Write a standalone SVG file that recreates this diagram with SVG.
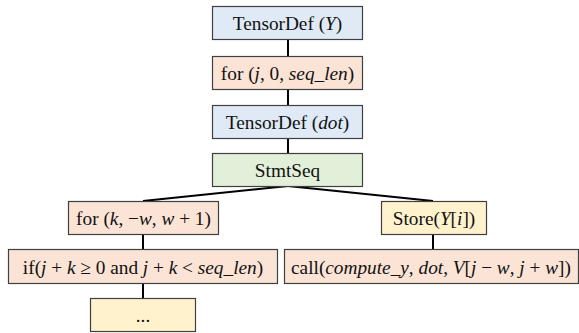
<svg xmlns="http://www.w3.org/2000/svg" width="579" height="333" viewBox="0 0 579 333">
  <style>
    .box { stroke: #404040; stroke-width: 1.2; }
    .blue { fill: #dfeaf6; }
    .pink { fill: #fbe4d6; }
    .green { fill: #e2efd9; }
    .yellow { fill: #fff2cd; }
    .edge { stroke: #000; stroke-width: 2; fill: none; }
    text { font-family: "Liberation Serif", "DejaVu Serif", serif; font-size: 19.3px; fill: #111; text-anchor: middle; }
    .i { font-style: italic; }
  </style>
  <g id="connectors">
    <line class="edge" x1="288" y1="39" x2="288" y2="56"/>
    <line class="edge" x1="288" y1="89" x2="288" y2="105"/>
    <line class="edge" x1="288" y1="138" x2="288" y2="153"/>
    <line class="edge" x1="288" y1="186" x2="143" y2="201"/>
    <line class="edge" x1="288" y1="186" x2="433" y2="201"/>
    <line class="edge" x1="143" y1="234" x2="143" y2="249"/>
    <line class="edge" x1="143" y1="283" x2="143" y2="298"/>
    <line class="edge" x1="433" y1="234" x2="433" y2="249"/>
  </g>
  <g id="tensordef-y">
    <rect class="box blue" x="212.5" y="6.5" width="150" height="33"/>
    <text x="287.5" y="29.5">TensorDef (<tspan class="i">Y</tspan>)</text>
  </g>
  <g id="for-j">
    <rect class="box pink" x="212.5" y="56.5" width="150" height="33"/>
    <text x="287.5" y="79.5">for (<tspan class="i">j</tspan>, 0, <tspan class="i">seq_len</tspan>)</text>
  </g>
  <g id="tensordef-dot">
    <rect class="box blue" x="212.5" y="105.5" width="150" height="33"/>
    <text x="287.5" y="128.5">TensorDef (<tspan class="i">dot</tspan>)</text>
  </g>
  <g id="stmtseq">
    <rect class="box green" x="212.5" y="153.5" width="150" height="33"/>
    <text x="287.5" y="176.5">StmtSeq</text>
  </g>
  <g id="for-k">
    <rect class="box pink" x="68.5" y="201.5" width="150" height="33"/>
    <text x="143.5" y="224.5">for (<tspan class="i">k</tspan>, −<tspan class="i">w</tspan>, <tspan class="i">w</tspan> + 1)</text>
  </g>
  <g id="if-bounds">
    <rect class="box pink" x="8.5" y="249.5" width="269" height="34"/>
    <text x="143" y="273.5">if(<tspan class="i">j</tspan> + <tspan class="i">k</tspan> ≥ 0 and <tspan class="i">j</tspan> + <tspan class="i">k</tspan> &lt; <tspan class="i">seq_len</tspan>)</text>
  </g>
  <g id="ellipsis">
    <rect class="box yellow" x="90.5" y="298.5" width="105" height="33"/>
    <text x="143" y="321.5">...</text>
  </g>
  <g id="store">
    <rect class="box yellow" x="381.5" y="201.5" width="105" height="33"/>
    <text x="434" y="224.5">Store(<tspan class="i">Y</tspan>[<tspan class="i">i</tspan>])</text>
  </g>
  <g id="call">
    <rect class="box pink" x="284.5" y="249.5" width="294" height="34"/>
    <text x="431" y="273.5">call(<tspan class="i">compute_y</tspan>, <tspan class="i">dot</tspan>, <tspan class="i">V</tspan>[<tspan class="i">j</tspan> − <tspan class="i">w</tspan>, <tspan class="i">j</tspan> + <tspan class="i">w</tspan>])</text>
  </g>
</svg>
